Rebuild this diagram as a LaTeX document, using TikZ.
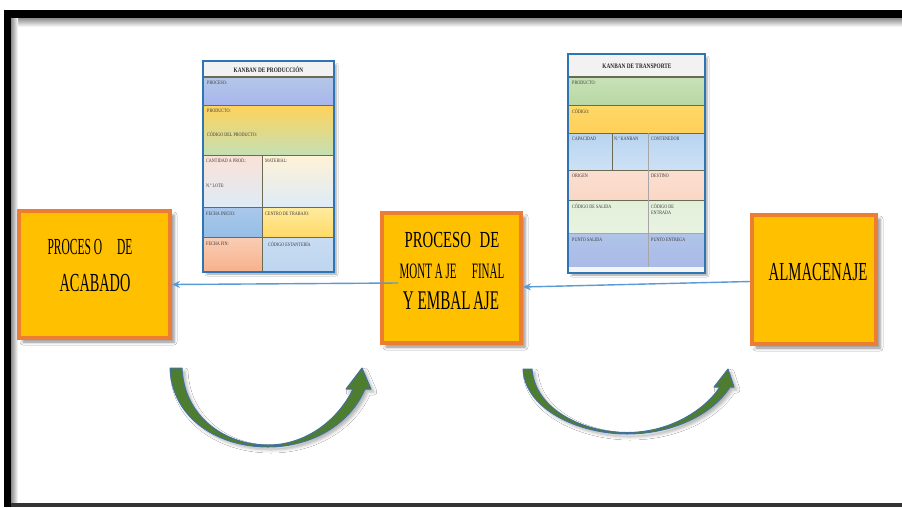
\documentclass[tikz,border=0pt]{standalone}
\usepackage{fontspec}
\setmainfont{Liberation Serif}
\usetikzlibrary{calc,shadows.blur,arrows.meta}

\definecolor{boxfill}{HTML}{FFC000}
\definecolor{boxline}{HTML}{ED7D31}
\definecolor{flowblue}{HTML}{5B9BD5}
\definecolor{cardline}{HTML}{2E75B6}
\definecolor{arrowgreen}{HTML}{4F7D2F}
\definecolor{arrowedge}{HTML}{41719C}
\definecolor{rule}{HTML}{6B6B55}

% horizontally condensed text
\newcommand\squeeze[2]{\scalebox{#1}[1]{#2}}

\tikzset{
  procbox/.style={draw=boxline, line width=4pt, fill=boxfill, inner sep=0pt,
    blur shadow={shadow xshift=4pt, shadow yshift=-4pt, shadow blur radius=3pt, shadow opacity=45}},
  boxtext/.style={inner sep=0pt, text=black},
  flowline/.style={draw=flowblue, line width=1.4pt, -{Stealth[length=8pt,width=7pt]}},
  card/.style={draw=cardline, line width=2pt, fill=white, inner sep=0pt,
    blur shadow={shadow xshift=3pt, shadow yshift=-3pt, shadow blur radius=2pt, shadow opacity=40}},
  cardtitle/.style={inner sep=0pt, font=\bfseries\fontsize{6.8}{7}\selectfont, text=black!85},
  cardtxt/.style={inner sep=0pt, anchor=north west, text=black!78,
    font=\fontsize{5.2}{5.8}\selectfont, align=left},
  cellrule/.style={draw=rule, line width=0.8pt},
  bendarrow/.style={fill=arrowgreen, draw=arrowedge, line width=1pt, line join=round,
    blur shadow={shadow xshift=3pt, shadow yshift=-3pt, shadow blur radius=3pt, shadow opacity=30}}
}

\begin{document}
\begin{tikzpicture}[x=1pt,y=-1pt]
\useasboundingbox (0,0) rectangle (902,507);
\fill[white] (0,0) rectangle (902,507);

% frame
\shade[top color=black!45, bottom color=white] (11,18) rectangle (902,27);
\shade[left color=black!45, right color=white] (11,18) rectangle (18,503);
\fill[black] (4,10) rectangle (902,18);
\fill[black] (4,10) rectangle (11,507);
\fill[black!80] (11,503) rectangle (902,507);

% process boxes
\node[procbox, minimum width=151pt, minimum height=127pt] (acabado) at (94.5,274.5) {};
\node[procbox, minimum width=139pt, minimum height=130pt] (montaje) at (451.5,278) {};
\node[procbox, minimum width=124pt, minimum height=129pt] (almacen) at (814,279.5) {};

\node[boxtext] (acabadoA) at (90,247) {\fontsize{23}{23}\selectfont\squeeze{0.5}{PROCES O\hspace{1.3em}DE}};
\node[boxtext] (acabadoB) at (95,283) {\fontsize{26}{26}\selectfont\squeeze{0.55}{ACABADO}};

\node[boxtext] (montajeA) at (452,240) {\fontsize{23}{23}\selectfont\squeeze{0.64}{PROCESO\hspace{0.6em}DE}};
\node[boxtext] (montajeB) at (452,271) {\fontsize{22}{22}\selectfont\squeeze{0.5}{MONT A JE\hspace{1.4em}FINAL}};
\node[boxtext] (montajeC) at (451,301) {\fontsize{27}{27}\selectfont\squeeze{0.56}{Y EMBAL\,AJE}};

\node[boxtext] (almacenA) at (818,272) {\fontsize{26}{26}\selectfont\squeeze{0.57}{ALMACENAJE}};

% flow connectors
\draw[flowline] ($(montaje.west)+(18,5)$) -- ($(acabado.east)+(0,10)$);
\draw[flowline] ($(almacen.west)+(0,2)$) -- ($(montaje.east)+(0,9)$);

% production kanban card
\node[card, minimum width=129pt, minimum height=209pt] (kprod) at (268.5,166.5) {};
\fill[black!5] (204,62) rectangle (333,77);
\shade[top color={rgb,255:red,180;green,199;blue,231}, bottom color={rgb,255:red,168;green,182;blue,238}] (204,77) rectangle (333,105);
\shade[top color={rgb,255:red,255;green,210;blue,90}, bottom color={rgb,255:red,197;green,224;blue,180}] (204,105) rectangle (333,155);
\shade[top color={rgb,255:red,251;green,225;blue,214}, bottom color={rgb,255:red,222;green,235;blue,247}] (204,155) rectangle (262,207);
\shade[top color={rgb,255:red,255;green,242;blue,214}, bottom color={rgb,255:red,222;green,235;blue,247}] (262,155) rectangle (333,207);
\shade[top color={rgb,255:red,170;green,200;blue,235}, bottom color={rgb,255:red,150;green,190;blue,230}] (204,207) rectangle (262,237);
\shade[top color={rgb,255:red,255;green,236;blue,160}, bottom color={rgb,255:red,255;green,217;blue,102}] (262,207) rectangle (333,237);
\shade[top color={rgb,255:red,250;green,205;blue,180}, bottom color={rgb,255:red,246;green,178;blue,140}] (204,237) rectangle (262,271);
\shade[top color={rgb,255:red,200;green,220;blue,242}, bottom color={rgb,255:red,190;green,214;blue,240}] (262,237) rectangle (333,271);
\draw[cellrule, line width=1.4pt] (204,77) -- (333,77);
\draw[cellrule] (204,105) -- (333,105);
\draw[cellrule] (204,155) -- (333,155);
\draw[cellrule] (204,207) -- (333,207);
\draw[cellrule] (204,237) -- (333,237);
\draw[cellrule] (262,155) -- (262,271);
\node[cardtitle] (kprodT) at (268.5,70) {\squeeze{0.78}{KANBAN DE PRODUCCIÓN}};
\node[cardtxt] (kp1) at (207,81) {\squeeze{0.8}{PROCESO:}};
\node[cardtxt] (kp2) at (207,109) {\squeeze{0.8}{PRODUCTO:}};
\node[cardtxt] (kp3) at (207,132) {\squeeze{0.8}{CÓDIGO DEL PRODUCTO:}};
\node[cardtxt] (kp4) at (206,159) {\squeeze{0.8}{CANTIDAD A PROD.:}};
\node[cardtxt] (kp5) at (265,159) {\squeeze{0.8}{MATERIAL:}};
\node[cardtxt] (kp6) at (206,184) {\squeeze{0.8}{N.º LOTE:}};
\node[cardtxt] (kp7) at (206,212) {\squeeze{0.8}{FECHA INICIO:}};
\node[cardtxt] (kp8) at (265,212) {\squeeze{0.8}{CENTRO DE TRABAJO:}};
\node[cardtxt] (kp9) at (206,242) {\squeeze{0.8}{FECHA FIN:}};
\node[cardtxt] (kp10) at (268,242) {\squeeze{0.8}{CÓDIGO ESTANTERÍA}};
\draw[cardline, line width=2pt] (kprod.south west) rectangle (kprod.north east);

% transport kanban card
\node[card, minimum width=135pt, minimum height=217pt] (ktrans) at (636.5,163.5) {};
\fill[black!5] (569,55) rectangle (704,77);
\shade[top color={rgb,255:red,200;green,226;blue,183}, bottom color={rgb,255:red,184;green,216;blue,164}] (569,77) rectangle (704,105);
\shade[top color={rgb,255:red,255;green,216;blue,102}, bottom color={rgb,255:red,255;green,208;blue,90}] (569,105) rectangle (704,133);
\shade[top color={rgb,255:red,184;green,212;blue,240}, bottom color={rgb,255:red,205;green,225;blue,245}] (569,133) rectangle (704,170);
\shade[top color={rgb,255:red,251;green,222;blue,208}, bottom color={rgb,255:red,250;green,215;blue,198}] (569,170) rectangle (704,200);
\shade[top color={rgb,255:red,226;green,240;blue,217}, bottom color={rgb,255:red,232;green,243;blue,225}] (569,200) rectangle (704,233);
\shade[top color={rgb,255:red,176;green,196;blue,232}, bottom color={rgb,255:red,170;green,186;blue,232}] (569,233) rectangle (704,267);
\fill[black!4] (569,267) rectangle (704,272);
\draw[cellrule, line width=1.2pt] (569,77) -- (704,77);
\draw[cellrule] (569,105) -- (704,105);
\draw[cellrule] (569,133) -- (704,133);
\draw[cellrule] (569,170) -- (704,170);
\draw[cellrule] (569,200) -- (704,200);
\draw[cellrule, draw=black!35] (569,233) -- (704,233);
\draw[cellrule] (612,133) -- (612,170);
\draw[cellrule, draw=black!35] (648,133) -- (648,267);
\node[cardtitle] (ktransT) at (637,66) {\squeeze{0.78}{KANBAN DE TRANSPORTE}};
\node[cardtxt] (kt1) at (572,81) {\squeeze{0.8}{PRODUCTO:}};
\node[cardtxt] (kt2) at (572,109) {\squeeze{0.8}{CÓDIGO:}};
\node[cardtxt] (kt3) at (572,137) {\squeeze{0.8}{CAPACIDAD}};
\node[cardtxt] (kt4) at (614,137) {\squeeze{0.8}{N.º KANBAN}};
\node[cardtxt] (kt5) at (651,137) {\squeeze{0.8}{CONTENEDOR}};
\node[cardtxt] (kt6) at (572,174) {\squeeze{0.8}{ORIGEN}};
\node[cardtxt] (kt7) at (651,174) {\squeeze{0.8}{DESTINO}};
\node[cardtxt] (kt8) at (572,204) {\squeeze{0.8}{CÓDIGO DE SALIDA}};
\node[cardtxt] (kt9) at (651,204) {\squeeze{0.8}{CÓDIGO DE}\\\squeeze{0.8}{ENTRADA}};
\node[cardtxt] (kt10) at (572,238) {\squeeze{0.8}{PUNTO SALIDA}};
\node[cardtxt] (kt11) at (651,238) {\squeeze{0.8}{PUNTO ENTREGA}};
\draw[cardline, line width=2pt] (ktrans.south west) rectangle (ktrans.north east);

% curved block arrows
\path[bendarrow] (170,368) .. controls (172,420) and (220,447) .. (268,447)
  .. controls (312,447) and (350,424) .. (365,389) -- (371,389) -- (362,368)
  -- (346,389) -- (353,389) .. controls (338,420) and (306,445) .. (268,445)
  .. controls (224,445) and (184,416) .. (182,368) -- cycle;
\path[bendarrow] (523,369) .. controls (525,410) and (580,434) .. (627,434)
  .. controls (672,434) and (712,415) .. (730,387) -- (734,387) -- (728,369)
  -- (714,387) -- (720,387) .. controls (703,412) and (668,432.5) .. (627,432.5)
  .. controls (584,432.5) and (535,410) .. (532,369) -- cycle;
\end{tikzpicture}
\end{document}
